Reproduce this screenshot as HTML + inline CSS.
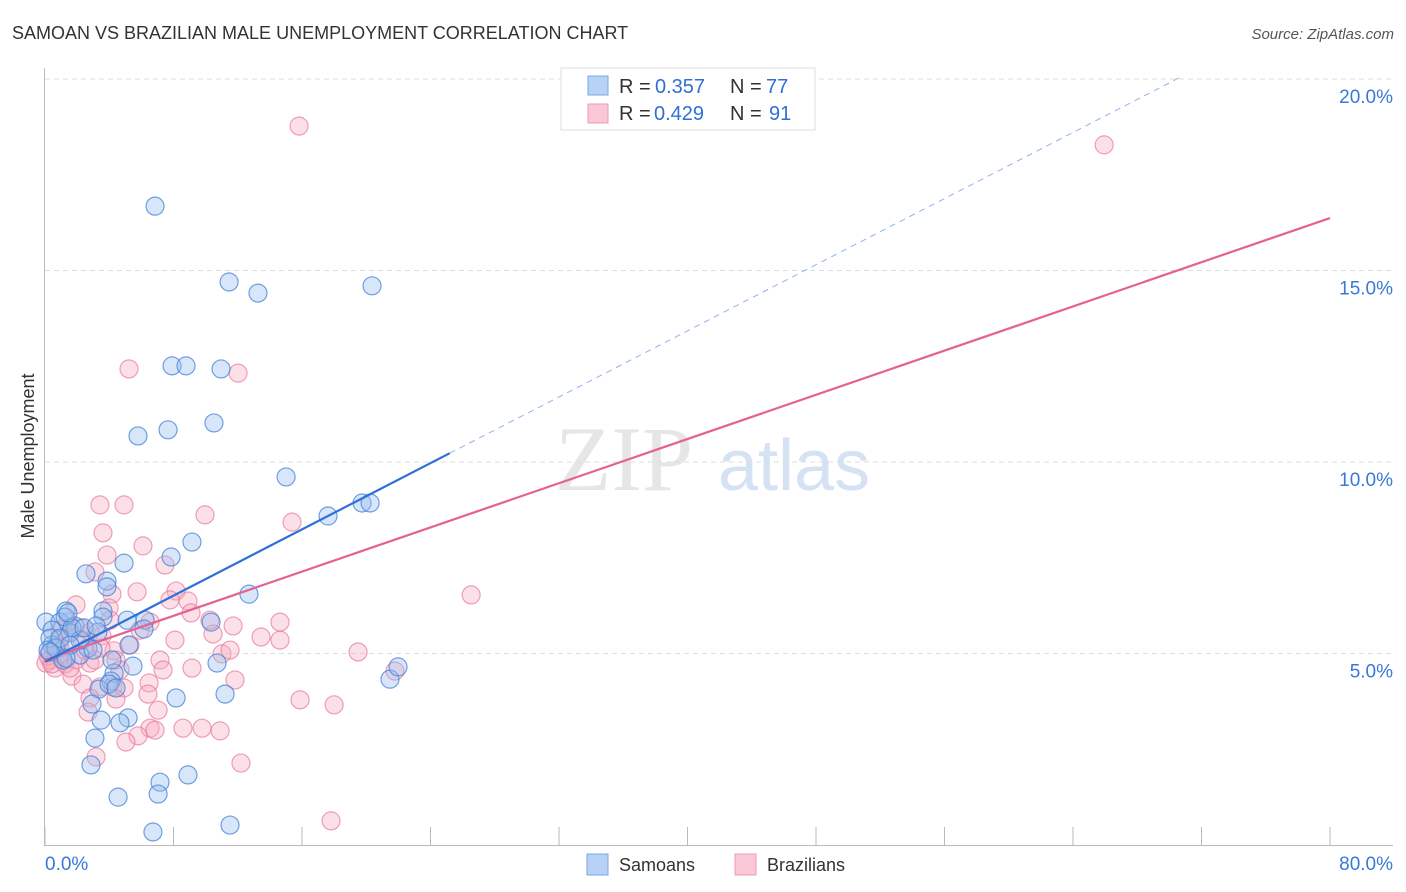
<!DOCTYPE html>
<html><head><meta charset="utf-8"><style>
body{margin:0;background:#fff;font-family:"Liberation Sans",sans-serif;}
svg{display:block}
</style></head><body>
<svg id="chart" width="1406" height="892">
<text x="12" y="39" font-size="18" fill="#333">SAMOAN VS BRAZILIAN MALE UNEMPLOYMENT CORRELATION CHART</text>
<text x="1394" y="39" font-size="15" fill="#555" font-style="italic" text-anchor="end">Source: ZipAtlas.com</text>
<text x="0" y="0" transform="translate(34,456) rotate(-90)" font-size="18" fill="#333" text-anchor="middle">Male Unemployment</text>
<g>
<text x="555" y="490" font-size="92" fill="#d6d6d6" font-family="Liberation Serif,serif" opacity="0.6">ZIP</text>
<text x="718" y="490" font-size="72" fill="#b9d0ee" opacity="0.6">atlas</text>
</g>
<g id="grid"></g>
<g id="axes"></g>
<g id="marks"></g>
<g>
<rect x="561" y="68" width="254" height="62" fill="#fff" stroke="#ddd"/>
<rect x="588" y="76" width="20" height="19" fill="#b7d2f5" stroke="#7aa8e6"/>
<rect x="588" y="104" width="20" height="19" fill="#f9c7d6" stroke="#ef9bb5"/>
<text y="93" font-size="20"><tspan x="619" fill="#333">R = </tspan><tspan x="655" fill="#2f6fd6">0.357</tspan><tspan x="730" fill="#333">N = </tspan><tspan x="766" fill="#2f6fd6">77</tspan></text>
<text y="120" font-size="20"><tspan x="619" fill="#333">R = </tspan><tspan x="654" fill="#2f6fd6">0.429</tspan><tspan x="730" fill="#333">N = </tspan><tspan x="769" fill="#2f6fd6">91</tspan></text>
</g>
<g>
<rect x="587" y="854" width="21" height="21" fill="#b7d2f5" stroke="#7aa8e6"/>
<text x="619" y="871" font-size="18" fill="#333">Samoans</text>
<rect x="735" y="854" width="21" height="21" fill="#f9c7d6" stroke="#ef9bb5"/>
<text x="767" y="871" font-size="18" fill="#333">Brazilians</text>
</g>
</svg>
<script>
const yTicks=[5,10,15,20];
const yTickLabels=["5.0%","10.0%","15.0%","20.0%"];
const xTicks=[0,8,16,24,32,40,48,56,64,72,80];
const samoanX=[6.85,11.46,13.26,20.36,7.91,8.78,10.96,5.79,7.66,10.52,15.01,17.62,19.74,20.24,9.15,7.85,2.55,3.86,3.86,4.92,12.70,1.31,3.61,3.61,5.11,6.23,6.16,10.34,0.06,0.93,1.25,1.87,0.44,1.56,3.30,0.44,2.68,2.18,1.12,5.23,10.71,5.48,4.30,4.11,3.36,3.99,4.42,8.16,11.21,2.93,3.49,5.17,4.67,3.11,2.86,7.16,8.90,7.04,4.55,6.72,11.52,21.48,21.98,0.31,0.19,0.68,2.18,1.68,2.43,0.93,1.56,2.99,4.17,1.43,3.18,0.31,1.31];
const samoanY=[16.68,14.70,14.41,14.60,12.51,12.51,12.43,10.68,10.84,11.02,9.61,8.59,8.93,8.93,7.91,7.52,7.08,6.89,6.74,7.36,6.55,6.11,6.11,5.95,5.87,5.87,5.64,5.82,5.82,5.82,5.95,5.72,5.61,5.54,5.56,5.22,5.14,4.96,4.83,5.22,4.75,4.67,4.49,4.28,4.07,4.20,4.10,3.84,3.94,3.68,3.26,3.32,3.19,2.79,2.09,1.64,1.83,1.33,1.25,0.34,0.52,4.33,4.65,5.40,5.09,5.14,5.35,5.67,5.67,5.40,5.22,5.09,4.83,6.06,5.72,5.04,4.88];
const brazilX=[15.82,65.94,5.23,12.02,3.42,4.92,3.61,9.96,15.38,6.10,3.86,7.47,3.11,8.16,5.73,4.17,1.93,3.99,8.90,9.09,26.53,14.63,11.71,10.46,13.45,6.54,1.56,0.93,2.80,3.55,2.30,4.30,0.93,0.31,0.62,1.25,1.93,0.93,0.19,1.68,2.80,4.42,7.16,7.35,9.15,11.02,19.49,21.79,2.37,3.42,4.23,6.48,6.41,4.92,11.83,2.80,4.42,7.04,2.68,6.54,6.85,8.59,9.78,10.90,5.79,5.04,3.18,12.20,18.00,17.81,1.43,2.18,0.68,0.06,0.44,2.49,3.49,1.56,5.92,5.29,8.09,10.27,0.93,4.05,7.78,3.11,4.67,11.52,14.63,15.88];
const brazilY=[18.77,18.28,12.43,12.32,8.88,8.88,8.15,8.62,8.43,7.81,7.57,7.31,7.13,6.63,6.61,6.55,6.27,6.19,6.37,6.06,6.53,5.82,5.72,5.51,5.43,5.82,5.56,5.61,5.56,5.46,5.35,5.07,4.91,4.83,4.62,4.73,4.83,5.14,4.93,4.41,4.75,4.83,4.83,4.57,4.62,4.99,5.04,4.54,4.20,4.13,4.13,4.23,3.94,4.10,4.31,3.84,3.81,3.52,3.47,3.05,3.00,3.05,3.05,2.98,2.85,2.69,2.30,2.14,3.66,0.63,5.82,5.67,5.20,4.75,4.73,5.09,5.14,4.62,5.61,5.22,5.35,5.87,5.35,5.87,6.40,4.83,4.57,5.09,5.35,3.79];
const samoanTrend={x0:0,y0:4.78,x1:25.2,y1:10.23,x2:70.7,y2:20.05};
const brazilTrend={x0:0,y0:4.83,x1:80,y1:16.37};

const NS="http://www.w3.org/2000/svg";
const X=v=>45+v/80*1285;
const Y=v=>845-v*38.3;
function el(tag,attrs,parent){const e=document.createElementNS(NS,tag);for(const k in attrs)e.setAttribute(k,attrs[k]);parent.appendChild(e);return e;}
const grid=document.getElementById('grid'),axes=document.getElementById('axes'),marks=document.getElementById('marks');
yTicks.forEach((t,i)=>{
  const l=el('line',{x1:45,x2:1393,y1:Y(t),y2:Y(t),stroke:'#ddd','stroke-dasharray':'5,4'},grid);
  
  
  const tx=el('text',{x:1393,y:Y(t)+24,'font-size':19,fill:'#3a78d8','text-anchor':'end'},axes);
  tx.textContent=yTickLabels[i];
  
  
});
const yl=el('line',{x1:44.5,x2:44.5,y1:68,y2:845,stroke:'#bbb'},axes);


const xl=el('line',{x1:44,x2:1393,y1:845.5,y2:845.5,stroke:'#bbb'},axes);


xTicks.forEach(t=>{
  const tk=el('line',{x1:X(t),x2:X(t),y1:827,y2:845,stroke:'#bbb'},axes);
  
  
});
const xa=el('text',{x:45,y:870,'font-size':19,fill:'#3a78d8'},axes);xa.textContent='0.0%';


const xb=el('text',{x:1393,y:870,'font-size':19,fill:'#3a78d8','text-anchor':'end'},axes);xb.textContent='80.0%';



brazilX.forEach((v,i)=>{
  const c=el('circle',{cx:X(v),cy:Y(brazilY[i]),r:9,fill:'rgba(245,165,190,0.35)',stroke:'rgba(234,120,155,0.7)','stroke-width':1.2},marks);
  
  
});
samoanX.forEach((v,i)=>{
  const c=el('circle',{cx:X(v),cy:Y(samoanY[i]),r:9,fill:'rgba(150,190,240,0.38)',stroke:'rgba(70,130,215,0.75)','stroke-width':1.2},marks);
  
  
});
const bt=el('line',{x1:X(brazilTrend.x0),y1:Y(brazilTrend.y0),x2:X(brazilTrend.x1),y2:Y(brazilTrend.y1),stroke:'#e4628e','stroke-width':2.2},marks);


const st=el('line',{x1:X(samoanTrend.x0),y1:Y(samoanTrend.y0),x2:X(samoanTrend.x1),y2:Y(samoanTrend.y1),stroke:'#2f70d8','stroke-width':2.2},marks);


const sd=el('line',{x1:X(samoanTrend.x1),y1:Y(samoanTrend.y1),x2:X(samoanTrend.x2),y2:Y(samoanTrend.y2),stroke:'#8fb3e8','stroke-width':1,'stroke-dasharray':'6,5'},marks);


</script>
</body></html>
